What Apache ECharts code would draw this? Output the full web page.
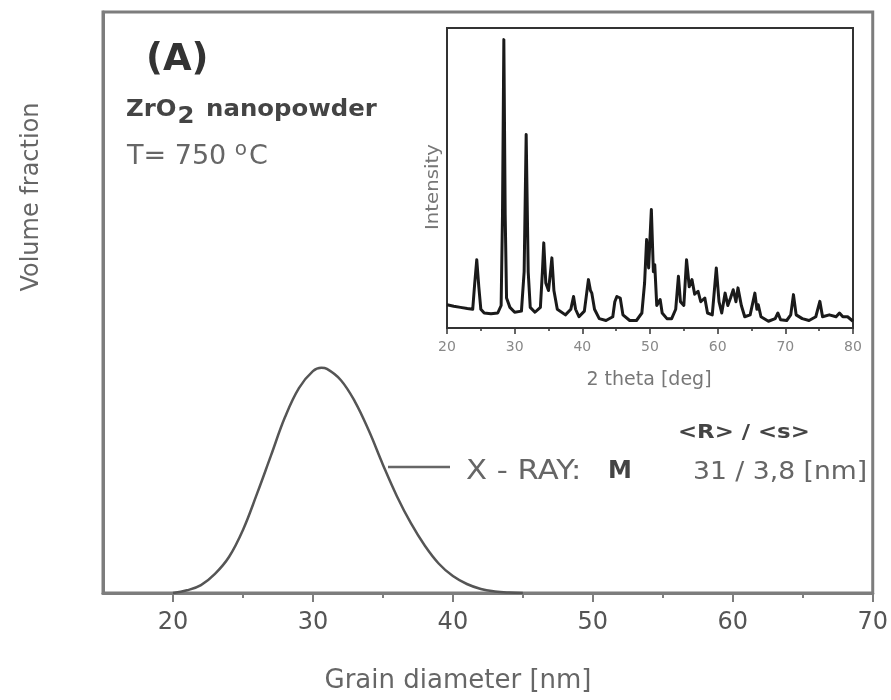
<!DOCTYPE html>
<html>
<head>
<meta charset="utf-8">
<script src="https://cdn.jsdelivr.net/npm/echarts@6/dist/echarts.min.js"></script>
<style>html,body{margin:0;padding:0;background:#fff;}#chart{width:891px;height:700px;}</style>
</head>
<body>
<div id="chart"></div>
<script>
// ---- Main panel: grain size distribution ----
const grainDiameter = [20, 21, 22, 23, 24, 25, 26, 27, 28, 29, 30, 30.6, 31, 32, 33, 34, 35, 36, 37, 38, 39, 40, 41, 42, 43, 44, 45];
const volumeFraction = [0, 0.012, 0.035, 0.085, 0.16, 0.28, 0.44, 0.61, 0.78, 0.91, 0.985, 1.0, 0.995, 0.945, 0.85, 0.72, 0.57, 0.43, 0.31, 0.21, 0.13, 0.075, 0.04, 0.018, 0.007, 0.002, 0];
const xTickValues = [20, 30, 40, 50, 60, 70];
const xMinorTickValues = [25, 35, 45, 55, 65];

// ---- Inset: XRD pattern ----
const xrdTheta = [20.0,21.0,22.0,23.0,23.8,24.1,24.4,24.7,25.0,25.5,26.5,27.5,28.0,28.2,28.4,28.6,28.8,29.3,30.0,31.0,31.4,31.7,32.0,32.3,33.0,33.8,34.1,34.3,34.6,35.0,35.3,35.5,35.8,36.3,37.5,38.3,38.7,39.0,39.5,40.3,40.9,41.2,41.4,41.8,42.5,43.5,44.5,44.8,45.1,45.6,46.0,47.0,48.0,48.8,49.2,49.5,49.8,50.0,50.2,50.5,50.7,51.0,51.5,51.8,52.5,53.2,53.8,54.2,54.5,55.0,55.4,55.8,56.2,56.6,57.1,57.5,58.1,58.5,59.2,59.8,60.2,60.6,61.1,61.5,61.9,62.3,62.7,63.0,63.5,64.0,64.8,65.5,65.8,66.0,66.4,67.5,68.5,68.9,69.3,70.2,70.8,71.2,71.6,72.5,73.5,74.5,75.1,75.5,76.5,77.5,78.0,78.5,79.2,80.0];
const xrdIntensity = [0.62,0.58,0.55,0.52,0.50,1.2,1.82,1.1,0.5,0.4,0.38,0.40,0.6,3.0,7.69,3.0,0.8,0.55,0.42,0.45,1.5,5.16,1.5,0.55,0.42,0.55,1.5,2.27,1.2,1.0,1.5,1.87,1.0,0.5,0.35,0.5,0.84,0.5,0.3,0.45,1.29,1.0,0.93,0.5,0.25,0.2,0.3,0.7,0.84,0.8,0.35,0.2,0.2,0.4,1.2,2.36,1.6,2.4,3.16,1.5,1.69,0.6,0.76,0.4,0.25,0.25,0.5,1.38,0.7,0.6,1.82,1.1,1.29,0.9,0.98,0.7,0.8,0.4,0.35,1.6,0.7,0.4,0.93,0.6,0.8,1.02,0.7,1.07,0.6,0.3,0.35,0.93,0.5,0.62,0.3,0.18,0.25,0.4,0.22,0.2,0.35,0.89,0.35,0.25,0.2,0.3,0.71,0.3,0.35,0.3,0.4,0.3,0.3,0.18];

const FONT = 'DejaVu Sans';
const frameGrey = '#7d7d7d';

const chart = echarts.init(document.getElementById('chart'), null, {renderer: 'canvas'});

function txt(text, x, y, size, color, opts) {
  opts = opts || {};
  return {
    type: 'text', x: x, y: y, rotation: opts.rotation || 0, scaleX: opts.scaleX || 1, z: 100,
    style: {
      text: text,
      font: (opts.bold ? 'bold ' : '') + size + 'px "' + FONT + '"',
      fill: color,
      align: opts.align || 'left', textAlign: opts.align || 'left',
      verticalAlign: 'middle', textVerticalAlign: 'middle',
      rich: opts.rich
    }
  };
}

const option = {
  backgroundColor: '#fff',
  animation: false,
  grid: [
    {left: 103, top: 12, width: 770, height: 581, show: true, borderColor: frameGrey, borderWidth: 3},
    {left: 447, top: 28, width: 406, height: 300, show: true, borderColor: '#333', borderWidth: 2, backgroundColor: '#fff', z: 5}
  ],
  xAxis: [
    {type: 'value', gridIndex: 0, min: 15, max: 70, position: 'bottom',
     axisLine: {show: true, lineStyle: {color: frameGrey, width: 3}},
     axisTick: {show: true, customValues: xTickValues, length: 9, lineStyle: {color: frameGrey, width: 2}},
     axisLabel: {show: true, customValues: xTickValues, margin: 18, fontSize: 24, color: '#555', fontFamily: FONT},
     splitLine: {show: false}},
    {type: 'value', gridIndex: 0, min: 15, max: 70, position: 'bottom',
     axisLine: {show: false},
     axisTick: {show: true, customValues: xMinorTickValues, length: 5, lineStyle: {color: frameGrey, width: 2}},
     axisLabel: {show: false}, splitLine: {show: false}},
    {type: 'value', gridIndex: 1, min: 20, max: 80, interval: 10, position: 'bottom',
     axisLine: {show: true, lineStyle: {color: '#333', width: 2}},
     axisTick: {show: true, inside: true, length: 6, lineStyle: {color: '#333', width: 1.5}},
     minorTick: {show: true, splitNumber: 2, length: 3, lineStyle: {color: '#333', width: 1.5}},
     axisLabel: {show: true, margin: 12, fontSize: 14, color: '#888', fontFamily: FONT},
     splitLine: {show: false}},
    {type: 'value', gridIndex: 1, min: 20, max: 80, interval: 10, position: 'top',
     axisLine: {show: true, lineStyle: {color: '#333', width: 2}},
     axisTick: {show: true, inside: true, length: 6, lineStyle: {color: '#333', width: 1.5}},
     minorTick: {show: true, splitNumber: 2, length: 3, lineStyle: {color: '#333', width: 1.5}},
     axisLabel: {show: false}, splitLine: {show: false}}
  ],
  yAxis: [
    {type: 'value', gridIndex: 0, min: 0, max: 2.58,
     axisLine: {show: true, lineStyle: {color: frameGrey, width: 3}},
     axisTick: {show: false}, axisLabel: {show: false}, splitLine: {show: false}},
    {type: 'value', gridIndex: 1, min: 0, max: 8, interval: 1, position: 'left',
     axisLine: {show: true, lineStyle: {color: '#333', width: 2}},
     axisTick: {show: true, inside: true, length: 6, lineStyle: {color: '#333', width: 1.5}},
     axisLabel: {show: false}, splitLine: {show: false}},
    {type: 'value', gridIndex: 1, min: 0, max: 8, interval: 1, position: 'right',
     axisLine: {show: true, lineStyle: {color: '#333', width: 2}},
     axisTick: {show: true, inside: true, length: 6, lineStyle: {color: '#333', width: 1.5}},
     axisLabel: {show: false}, splitLine: {show: false}}
  ],
  series: [
    {type: 'line', xAxisIndex: 0, yAxisIndex: 0, smooth: 0.4, showSymbol: false,
     lineStyle: {color: '#555', width: 2.5},
     data: grainDiameter.map((d, i) => [d, volumeFraction[i]])},
    {type: 'line', xAxisIndex: 2, yAxisIndex: 1, smooth: false, showSymbol: false, z: 6,
     lineStyle: {color: '#1a1a1a', width: 3, join: 'round'},
     data: xrdTheta.map((t, i) => [t, xrdIntensity[i]])}
  ],
  graphic: [
    txt('(A)', 146, 60, 37, '#333', {bold: true}),
    txt('{a|ZrO}{s|2}{a| nanopowder}', 126, 110, 23, '#444', {bold: true, scaleX: 1.06, rich: {
      a: {font: 'bold 23px "' + FONT + '"', fill: '#444', color: '#444'},
      s: {font: 'bold 23px "' + FONT + '"', fill: '#444', color: '#444', padding: [15, 3, 0, 1]}
    }}),
    txt('{a|T= 750 }{o|o}{a|C}', 127, 157, 27, '#666', {rich: {
      a: {font: '27px "' + FONT + '"', fill: '#666', color: '#666'},
      o: {font: '20px "' + FONT + '"', fill: '#666', color: '#666', padding: [0, 2, 14, 0]}
    }}),
    {type: 'line', z: 100, shape: {x1: 388, y1: 467, x2: 450, y2: 467}, style: {stroke: '#666', lineWidth: 2.5}},
    txt('X - RAY:', 466, 472, 26, '#666', {scaleX: 1.18}),
    txt('M', 608, 472, 24, '#444', {bold: true}),
    txt('<R> / <s>', 678, 433, 19, '#444', {bold: true, scaleX: 1.2}),
    txt('31 / 3,8 [nm]', 693, 472, 25, '#666', {scaleX: 1.065}),
    txt('Volume fraction', 32, 197, 24, '#666', {align: 'center', rotation: Math.PI / 2}),
    txt('Grain diameter [nm]', 458, 681, 26, '#666', {align: 'center'}),
    txt('2 theta [deg]', 649, 380, 19, '#777', {align: 'center'}),
    txt('Intensity', 433, 187, 18, '#777', {align: 'center', rotation: Math.PI / 2, scaleX: 1.1})
  ]
};
chart.setOption(option);
</script>
</body>
</html>
